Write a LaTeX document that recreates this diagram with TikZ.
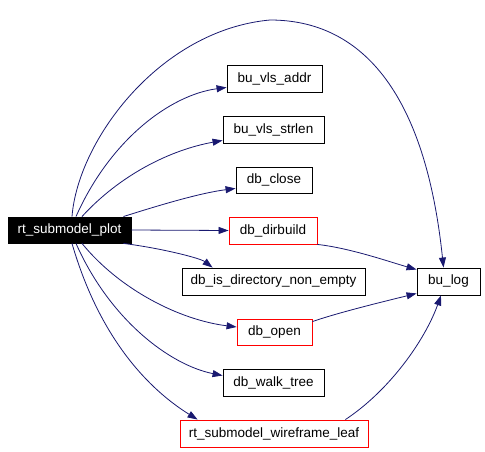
\documentclass[tikz,border=0pt]{standalone}
\usepackage{fontspec}
\setmainfont{Liberation Sans}
\usepackage{tikz}
\usetikzlibrary{arrows.meta}
\definecolor{edgeblue}{HTML}{191970}

\begin{document}
\begin{tikzpicture}[x=1pt,y=-1pt,
  fnbox/.style={draw,rectangle,inner sep=0pt,minimum height=27pt,line width=0.9pt,font=\fontsize{13.5}{15}\selectfont},
  redbox/.style={fnbox,draw=red},
  rootbox/.style={fnbox,fill=black,text=white,minimum height=26pt},
  call/.style={draw=edgeblue,line width=0.8pt,-{Triangle[length=10pt,width=7pt]}}]
  \useasboundingbox (0,0) rectangle (485,452);
  %caller
  \node[rootbox,minimum width=123pt] (plot) at (69.5,230) {rt\_submodel\_plot};
  %callees
  \node[fnbox,minimum width=95pt] (addr) at (274.5,78.5) {bu\_vls\_addr};
  \node[fnbox,minimum width=101pt] (strlen) at (273.5,129.5) {bu\_vls\_strlen};
  \node[fnbox,minimum width=76pt,minimum height=26pt] (close) at (274,180) {db\_close};
  \node[redbox,minimum width=88pt] (dirbuild) at (273,230.5) {db\_dirbuild};
  \node[fnbox,minimum width=183pt] (isdir) at (273.5,281.5) {db\_is\_directory\_non\_empty};
  \node[redbox,minimum width=75pt,minimum height=26pt] (open) at (274.5,332) {db\_open};
  \node[fnbox,minimum width=101pt] (walk) at (273.5,382.5) {db\_walk\_tree};
  \node[redbox,minimum width=188pt] (leaf) at (274,433.5) {rt\_submodel\_wireframe\_leaf};
  \node[fnbox,minimum width=63pt] (bulog) at (448.5,281.5) {bu\_log};
  %calls from rt_submodel_plot
  \draw[call] ([xshift=2.5pt]plot.north) .. controls (78,140) and (160,30) .. (270,20)
    .. controls (360,20) and (425,90) .. ([xshift=-5pt]bulog.north);
  \draw[call] ([xshift=6.5pt]plot.north) .. controls (110,140) and (170,95) .. ([yshift=5pt]addr.south west);
  \draw[call] ([xshift=12.5pt]plot.north) .. controls (120,175) and (170,150) .. ([yshift=3pt]strlen.south west);
  \draw[call] ([xshift=-8pt]plot.north east) .. controls (160,205) and (200,193) .. ([yshift=5pt]close.south west);
  \draw[call] (plot.east) -- (dirbuild.west);
  \draw[call] ([xshift=-8pt]plot.south east) .. controls (160,248) and (200,258) .. ([xshift=31pt]isdir.north west);
  \draw[call] ([xshift=12.5pt]plot.south) .. controls (120,290) and (180,320) .. ([yshift=5pt]open.west);
  \draw[call] ([xshift=6.5pt]plot.south) .. controls (110,320) and (170,365) .. ([yshift=-7pt]walk.north west);
  \draw[call] ([xshift=2.5pt]plot.south) .. controls (100,340) and (150,390) .. ([xshift=18pt]leaf.north west);
  %calls to bu_log
  \draw[call] (dirbuild.south east) .. controls (350,248) and (390,262) .. ([yshift=-2pt]bulog.north west);
  \draw[call] ([yshift=-3pt]open.north east) .. controls (340,312) and (390,300) .. ([yshift=2pt]bulog.south west);
  \draw[call] ([xshift=-23pt]leaf.north east) .. controls (390,390) and (425,340) .. ([xshift=-7.5pt]bulog.south);
\end{tikzpicture}
\end{document}
